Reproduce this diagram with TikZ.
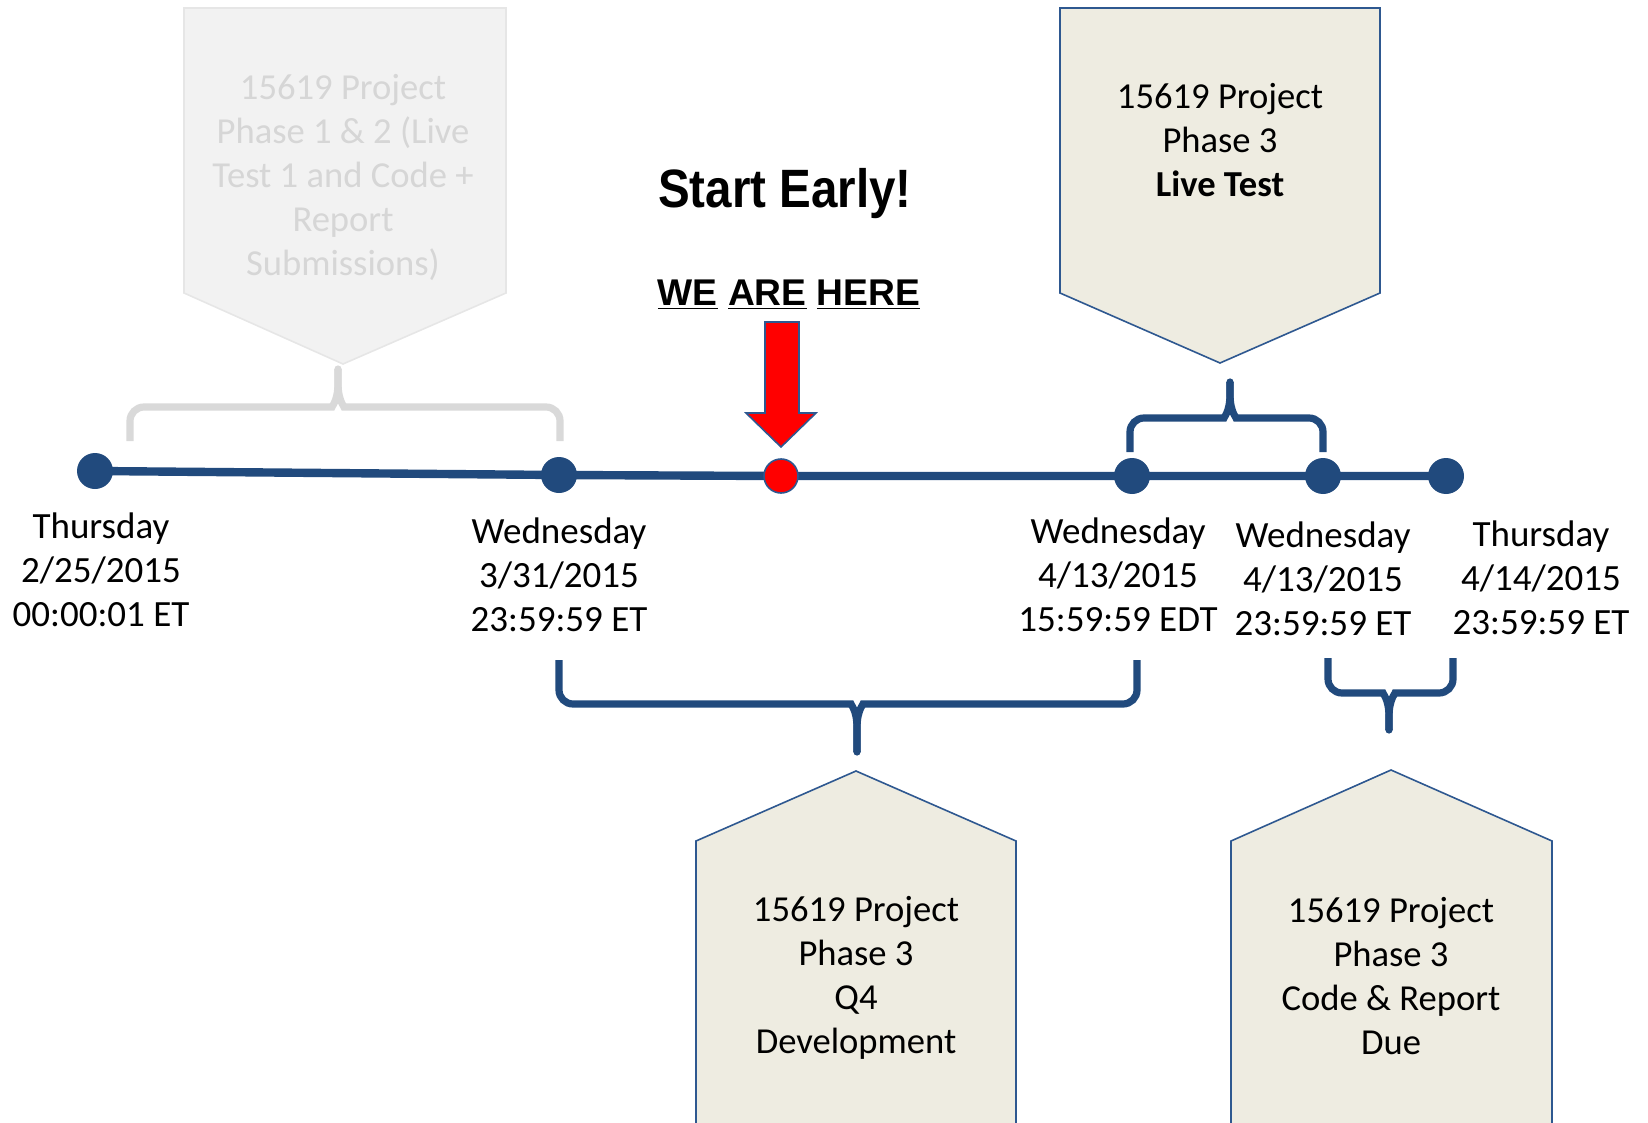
\documentclass[tikz,border=0pt]{standalone}
\usepackage{fontspec}
\setmainfont{Carlito}
\newfontfamily\arialfont{Liberation Sans}
\usetikzlibrary{backgrounds}
\definecolor{tlblue}{HTML}{214A7D}
\definecolor{bordblue}{HTML}{2E5890}
\definecolor{boxfill}{HTML}{EEECE1}
\definecolor{greyfill}{HTML}{F2F2F2}
\definecolor{greyline}{HTML}{E6E6E6}
\definecolor{greytext}{HTML}{D6D6D6}
\definecolor{greybrace}{HTML}{D9D9D9}
% brace: color, x1, x2, xc, yend, yh, ytip, dir(+1 down,-1 up)
\newcommand{\mybrace}[8]{%
  \draw[bracestroke,#1] (#2,#5) {[rounded corners=7pt] -- (#2,#6) -- ({#4-20},#6)}
     .. controls ({#4-7},#6) and (#4,{#6+#8*5}) .. (#4,{#6+#8*24}) -- (#4,#7);
  \draw[bracestroke,#1] (#3,#5) {[rounded corners=7pt] -- (#3,#6) -- ({#4+20},#6)}
     .. controls ({#4+7},#6) and (#4,{#6+#8*5}) .. (#4,{#6+#8*24}) -- (#4,#7);
  \fill[#1] (#4,#7) circle (1.8pt);
}
\begin{document}
\begin{tikzpicture}[x=0.5pt,y=-0.5pt,
  tldot/.style={circle, fill=tlblue, inner sep=0pt, minimum size=18pt},
  tlred/.style={circle, fill=red, draw=bordblue, line width=0.8pt, inner sep=0pt, minimum size=17pt},
  datelbl/.style={align=center, font=\fontsize{18.5}{22}\selectfont, inner sep=0pt},
  boxtxt/.style={align=center, font=\fontsize{18.3}{22}\selectfont, inner sep=0pt},
  timeline/.style={line width=4.2pt, draw=tlblue},
  bracestroke/.style={line width=3.6pt},
  callout/.style={fill=boxfill, draw=bordblue, line width=0.8pt},
  greycallout/.style={fill=greyfill, draw=greyline, line width=0.8pt},
]
\useasboundingbox (0,0) rectangle (1648,1123);

% callout shapes
\path[greycallout] (184,8) -- (506,8) -- (506,293) -- (343,364) -- (184,293) -- cycle;
\path[callout] (1060,8) -- (1380,8) -- (1380,293) -- (1220,363) -- (1060,293) -- cycle;
\fill[boxfill] (696,1124) -- (696,841) -- (856,771) -- (1016,841) -- (1016,1124) -- cycle;
\draw[bordblue, line width=0.8pt] (696,1124) -- (696,841) -- (856,771) -- (1016,841) -- (1016,1124);
\fill[boxfill] (1231,1124) -- (1231,841) -- (1391,770) -- (1552,841) -- (1552,1124) -- cycle;
\draw[bordblue, line width=0.8pt] (1231,1124) -- (1231,841) -- (1391,770) -- (1552,841) -- (1552,1124);

% callout texts
\node[boxtxt, text=greytext] (tgrey) at (343,177) {15619 Project\\Phase 1 \& 2 (Live\\Test 1 and Code +\\Report\\Submissions)};
\node[boxtxt] (tlive) at (1220,140) {15619 Project\\Phase 3\\\textbf{Live Test}};
\node[boxtxt] (tdev) at (856,978) {15619 Project\\Phase 3\\Q4\\Development};
\node[boxtxt] (tdue) at (1391,976) {15619 Project\\Phase 3\\Code \& Report\\Due};

% timeline dots
\node[tldot] (d1) at (95,471) {};
\node[tldot] (d2) at (559,475) {};
\node[tlred] (dnow) at (781,476) {};
\node[tldot] (d3) at (1132,476) {};
\node[tldot] (d4) at (1323,476) {};
\node[tldot] (d5) at (1446,476) {};
\begin{pgfonlayer}{background}
\draw[timeline] (d1.center) -- (d2.center) -- (dnow.center) -- (d3.center) -- (d4.center) -- (d5.center);
\end{pgfonlayer}

% date labels
\node[datelbl] (l1) at (101,570) {Thursday\\2/25/2015\\00:00:01 ET};
\node[datelbl] (l2) at (559,575) {Wednesday\\3/31/2015\\23:59:59 ET};
\node[datelbl] (l3) at (1118,575) {Wednesday\\4/13/2015\\15:59:59 EDT};
\node[datelbl] (l4) at (1323,579) {Wednesday\\4/13/2015\\23:59:59 ET};
\node[datelbl] (l5) at (1541,578) {Thursday\\4/14/2015\\23:59:59 ET};

% braces
\mybrace{greybrace}{130}{560}{338}{441}{407}{369}{-1}
\mybrace{tlblue}{1130}{1323}{1230}{452}{418}{382}{-1}
\mybrace{tlblue}{559}{1137}{857}{660}{704}{752}{1}
\mybrace{tlblue}{1328}{1453}{1389}{658}{693}{730}{1}

% headline texts
\node[anchor=base, inner sep=0pt, font=\arialfont\bfseries\fontsize{27}{32}\selectfont] (start) at (785,208) {\scalebox{0.88}[1]{Start Early!}};
\node[anchor=base, inner sep=0pt, font=\arialfont\bfseries\fontsize{18.6}{22}\selectfont] (here) at (789,306) {\underline{WE} \underline{ARE} \underline{HERE}};

% red arrow
\path[fill=red, draw=bordblue, line width=0.8pt] (765,322) -- (799,322) -- (799,413) -- (816,413) -- (781,447) -- (746,413) -- (765,413) -- cycle;
\end{tikzpicture}
\end{document}
